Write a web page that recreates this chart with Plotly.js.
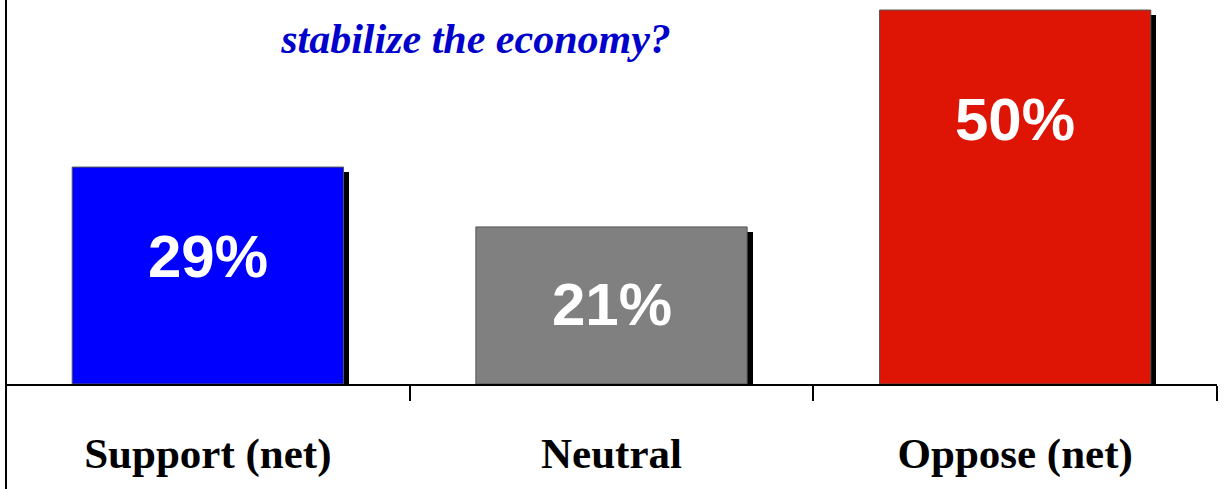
<!DOCTYPE html>
<html>
<head>
<meta charset="utf-8">
<script src="https://cdn.plot.ly/plotly-3.0.1.min.js"></script>
<style>
  html, body { margin: 0; padding: 0; background: #ffffff; }
  #chart { width: 1225px; height: 489px; }
</style>
</head>
<body>
<div id="chart"></div>
<script>
// ---- data ----
const categories = ["Support (net)", "Neutral", "Oppose (net)"];
const values = [29, 21, 50];
const barColors = ["#0000FF", "#808080", "#DE1505"];
const titleText = "stabilize the economy?";

// ---- style ----
const BAR_W = 0.672;
const SHADOW_DX = 0.014;   // category units (~5-6px)
const SHADOW_DY = 0.7;     // value units (~5px)
const labelHeights = [17.0, 10.6, 35.4]; // where value labels sit inside bars

const shadow = {
  type: "bar",
  x: categories,
  y: values,
  base: values.map(() => -SHADOW_DY),
  width: BAR_W,
  offset: -BAR_W / 2 + SHADOW_DX,
  marker: { color: "#000000", line: { width: 0 } },
  hoverinfo: "skip",
  showlegend: false
};

const bars = {
  type: "bar",
  x: categories,
  y: values,
  width: BAR_W,
  marker: { color: barColors, line: { color: "#555555", width: 1 } },
  showlegend: false
};

const annotations = categories.map((c, i) => ({
  x: c, y: labelHeights[i], xref: "x", yref: "y",
  text: values[i] + "%",
  showarrow: false,
  font: { family: "Liberation Sans, Arial, sans-serif", size: 60, color: "#FFFFFF", weight: "bold" },
  xanchor: "center", yanchor: "middle"
}));

const layout = {
  width: 1225,
  height: 489,
  margin: { l: 6, r: 8, t: 0, b: 105 },
  paper_bgcolor: "#FFFFFF",
  plot_bgcolor: "#FFFFFF",
  barmode: "overlay",
  bargap: 0,
  title: {
    text: "<b><i>" + titleText + "</i></b>",
    font: { family: "Liberation Serif, Times New Roman, serif", size: 42, color: "#0000CC" },
    x: 476 / 1225, xref: "container", xanchor: "center",
    y: 1 - 38 / 489, yref: "container", yanchor: "middle"
  },
  xaxis: {
    type: "category",
    showline: true, linecolor: "#000000", linewidth: 2,
    ticks: "outside", tickson: "boundaries", ticklen: 15, tickwidth: 2, tickcolor: "#000000",
    tickfont: { family: "Liberation Serif, Times New Roman, serif", size: 43, color: "#000000", weight: "bold" },
    ticklabelstandoff: 30,
    showgrid: false, zeroline: false, fixedrange: true
  },
  yaxis: {
    range: [0, 51.34],
    showline: false, showticklabels: false, ticks: "",
    showgrid: false, zeroline: false, fixedrange: true
  },
  shapes: [{
    type: "line", xref: "paper", yref: "paper",
    x0: 0, x1: 0, y0: -105 / 384, y1: 1,
    line: { color: "#000000", width: 2 }
  }],
  annotations: annotations
};

Plotly.newPlot("chart", [shadow, bars], layout, { displayModeBar: false, staticPlot: true });
</script>
</body>
</html>
